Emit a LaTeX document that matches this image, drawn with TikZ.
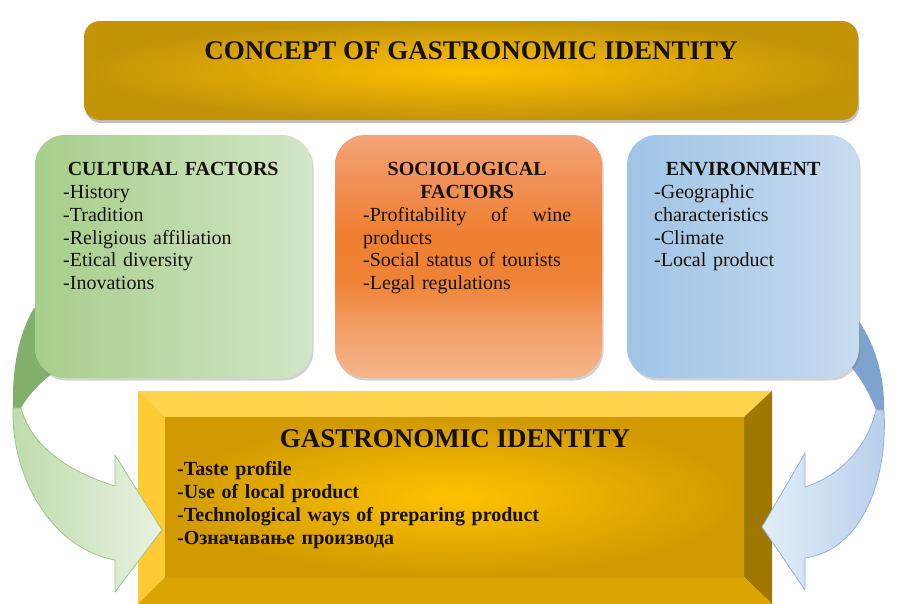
\documentclass[tikz,border=0pt]{standalone}
\usepackage{fontspec}
\setmainfont{Liberation Serif}
\usetikzlibrary{shadows}
\definecolor{gdark}{HTML}{A6CE8B}
\definecolor{gmid}{HTML}{DDEBD4}
\definecolor{gpale}{HTML}{D2E6C6}
\definecolor{oc0}{HTML}{F6B58C}
\definecolor{oc1}{HTML}{F3A068}
\definecolor{oc2}{HTML}{EF8235}
\definecolor{oc3}{HTML}{EF7F30}
\definecolor{oc4}{HTML}{F19055}
\definecolor{oc5}{HTML}{F4A478}
\definecolor{bdark}{HTML}{A0C4E6}
\definecolor{bmid}{HTML}{DCE8F5}
\definecolor{bpale}{HTML}{C6DBEF}
\definecolor{goldin}{HTML}{FFC000}
\definecolor{goldout}{HTML}{C39408}
\definecolor{bvtop}{HTML}{FFD34C}
\definecolor{bvleft}{HTML}{FFCB35}
\definecolor{bvright}{HTML}{A07800}
\definecolor{bvbot}{HTML}{DBA400}
\definecolor{facedark}{HTML}{D09A00}
\definecolor{facelight}{HTML}{FFC200}
\definecolor{gaL}{HTML}{BFDBAB}
\definecolor{gaR}{HTML}{E8F2E2}
\definecolor{gaE}{HTML}{9DC487}
\definecolor{gaD}{HTML}{82B06A}
\definecolor{baL}{HTML}{E3EDF8}
\definecolor{baR}{HTML}{B6CFEB}
\definecolor{baE}{HTML}{8FB2DB}
\definecolor{baD}{HTML}{7FA3CF}
\definecolor{ink}{HTML}{151008}
\pgfdeclareverticalshading{orangesh}{100bp}{color(0bp)=(oc0); color(25bp)=(oc0);
  color(35bp)=(oc1); color(45bp)=(oc2); color(55bp)=(oc3); color(65bp)=(oc4);
  color(75bp)=(oc5); color(100bp)=(oc5)}
\begin{document}
\begin{tikzpicture}[x=1pt,y=-1pt,
  factorbox/.style={rounded corners=30pt, minimum height=243pt, inner sep=0pt,
     drop shadow={opacity=0.35, shadow xshift=1.5pt, shadow yshift=-2.5pt}},
  boxtxt/.style={inner sep=0pt, anchor=north west, align=left, text=ink,
     font=\fontsize{20}{22.7}\selectfont},
  bigtitle/.style={inner sep=0pt, anchor=north, text=ink,
     font=\fontsize{27}{30}\selectfont\bfseries},
  gitxt/.style={inner sep=0pt, anchor=north west, align=left, text=ink,
     text width=420pt, font=\fontsize{20}{23}\selectfont\bfseries},
  arrowlight/.style={line width=0.8pt, line join=round},
]
\useasboundingbox (0,0) rectangle (908,603);
\fill[white] (0,0) rectangle (908,603);
\begin{scope}
\clip (0,0) rectangle (908,603);
% ---------- bottom bevelled box ----------
\coordinate (o1) at (138,391);
\coordinate (o2) at (772,391);
\coordinate (o3) at (772,604);
\coordinate (o4) at (138,604);
\coordinate (i1) at (165,417);
\coordinate (i2) at (744,417);
\coordinate (i3) at (744,577);
\coordinate (i4) at (165,577);
\node[minimum width=634pt, minimum height=213pt, inner sep=0pt] (gi) at (455,497.5) {};
\fill[bvtop] (o1) -- (o2) -- (i2) -- (i1) -- cycle;
\fill[bvleft] (o1) -- (i1) -- (i4) -- (o4) -- cycle;
\fill[bvright] (o2) -- (o3) -- (i3) -- (i2) -- cycle;
\fill[bvbot] (o4) -- (i4) -- (i3) -- (o3) -- cycle;
\shade[inner color=facelight, outer color=facedark] (i1) rectangle (i3);
% ---------- curved arrows ----------
\fill[gaD] (21,408) -- (13,408) .. controls (12,370) and (18,335) .. (34,308)
   -- (70,330) -- (60,368) .. controls (45,378) and (30,392) .. (21,408) -- cycle;
\shadedraw[arrowlight, left color=gaL, right color=gaR, draw=gaE]
   (13,408) .. controls (11,475) and (50,548) .. (115,560) -- (115,592) -- (162,530)
   -- (115,455) -- (115,486) .. controls (70,472) and (32,448) .. (21,408) -- cycle;
\fill[baD] (876,410) -- (884,410) .. controls (885,380) and (876,345) .. (858,320)
   -- (840,330) -- (852,368) .. controls (862,380) and (870,395) .. (876,410) -- cycle;
\shadedraw[arrowlight, left color=baL, right color=baR, draw=baE]
   (884,410) .. controls (888,480) and (862,550) .. (805,558) -- (805,590) -- (762,527)
   -- (805,453) -- (805,487) .. controls (842,475) and (868,445) .. (876,410) -- cycle;
% ---------- factor boxes ----------
\node[factorbox, minimum width=277pt, left color=gdark, middle color=gmid, right color=gpale]
   (cult) at (173.5,256.5) {};
\node[factorbox, minimum width=267pt, shading=orangesh]
   (soc) at (468.5,256.5) {};
\node[factorbox, minimum width=232pt, left color=bdark, middle color=bmid, right color=bpale]
   (env) at (743,256.5) {};
% ---------- top bar ----------
\node[rounded corners=16pt, minimum width=774pt, minimum height=99pt, inner sep=0pt,
   inner color=goldin, outer color=goldout,
   drop shadow={opacity=0.5, shadow xshift=1pt, shadow yshift=-3pt}]
   (concept) at (471,70.5) {};
% ---------- texts ----------
\node[bigtitle] (ctitle) at (471,41.5) {CONCEPT OF GASTRONOMIC IDENTITY};
\node[boxtxt, text width=220pt] (culttxt) at (63,162.5)
  {\centering\textbf{CULTURAL FACTORS}\par\raggedright
   -History\\-Tradition\\-Religious affiliation\\-Etical diversity\\-Inovations};
\node[boxtxt, text width=208pt] (soctxt) at (363,162.5)
  {\centering\textbf{SOCIOLOGICAL}\\\textbf{FACTORS}\par\raggedright
   -Profitability\hfill of\hfill wine\\products\\-Social status of tourists\\-Legal regulations};
\node[boxtxt, text width=178pt] (envtxt) at (654,162.5)
  {\centering\textbf{ENVIRONMENT}\par\raggedright
   -Geographic\\characteristics\\-Climate\\-Local product};
\node[bigtitle] (gititle) at (455,429.5) {GASTRONOMIC IDENTITY};
\node[gitxt] (gilist) at (177,461.5)
  {-Taste profile\\-Use of local product\\-Technological ways of preparing product\\-Означавање производа};
\end{scope}
\end{tikzpicture}
\end{document}
